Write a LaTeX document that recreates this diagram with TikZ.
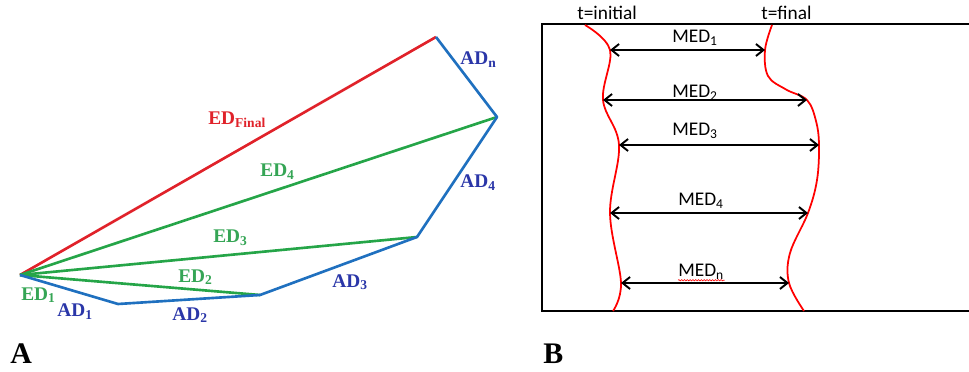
\documentclass[tikz,border=0pt]{standalone}
\usepackage{fontspec}
\setmainfont{Liberation Serif}
\newfontfamily\calib{Carlito}
\usetikzlibrary{arrows.meta,decorations.pathmorphing}
\definecolor{edrot}{HTML}{E0222A}
\definecolor{edgruen}{HTML}{25A548}
\definecolor{adblau}{HTML}{1F70BF}
\definecolor{adtext}{HTML}{2A36A8}
\definecolor{edtext}{HTML}{35A555}
\tikzset{
  weg/.style={line width=1.5pt,line join=round},
  lbl/.style={font=\fontsize{11}{13}\selectfont\bfseries,inner sep=0pt,anchor=base west},
  medpfeil/.style={{Straight Barb[length=1.5mm,width=2.4mm]}-{Straight Barb[length=1.5mm,width=2.4mm]},black,line width=1.1pt},
  front/.style={red,line width=1pt},
  medtxt/.style={font=\calib\fontsize{11}{13}\selectfont,inner sep=0pt,anchor=base west},
  panel/.style={font=\fontsize{17}{20}\selectfont\bfseries,inner sep=0pt,anchor=base west},
}
\begin{document}
\begin{tikzpicture}
  \useasboundingbox (0,0) rectangle (19.38,7.42);
  % --- A: Wegstrecke ---
  \coordinate (O) at (0.40,1.92);
  \coordinate (P1) at (2.36,1.34);
  \coordinate (P2) at (5.20,1.52);
  \coordinate (P3) at (8.34,2.68);
  \coordinate (P4) at (9.94,5.08);
  \coordinate (P5) at (8.72,6.68);
  \draw[weg,edrot] (O)--(P5);
  \draw[weg,edgruen] (O)--(P4);
  \draw[weg,edgruen] (O)--(P3);
  \draw[weg,edgruen] (O)--(P2);
  \draw[weg,adblau] (O)--(P1)--(P2)--(P3)--(P4)--(P5);
  \node[lbl,edrot] (edfinal) at (4.16,4.92) {ED\textsubscript{Final}};
  \node[lbl,edtext] (ed4) at (5.20,3.88) {ED\textsubscript{4}};
  \node[lbl,edtext] (ed3) at (4.26,2.56) {ED\textsubscript{3}};
  \node[lbl,edtext] (ed2) at (3.56,1.78) {ED\textsubscript{2}};
  \node[lbl,edtext] (ed1) at (0.42,1.42) {ED\textsubscript{1}};
  \node[lbl,adtext] (ad1) at (1.14,1.08) {AD\textsubscript{1}};
  \node[lbl,adtext] (ad2) at (3.44,1.02) {AD\textsubscript{2}};
  \node[lbl,adtext] (ad3) at (6.64,1.68) {AD\textsubscript{3}};
  \node[lbl,adtext] (ad4) at (9.20,3.66) {AD\textsubscript{4}};
  \node[lbl,adtext] (adn) at (9.20,6.12) {AD\textsubscript{n}};
  \node[panel] (pa) at (0.20,0.16) {A};
  % --- B: Fronten ---
  \draw[black,line width=1.1pt] (19.40,6.94)--(10.84,6.94)--(10.84,1.20)--(19.40,1.20);
  \coordinate (i0) at (11.70,6.92);
  \coordinate (i1) at (12.20,6.42);
  \coordinate (i2) at (12.06,5.42);
  \coordinate (i3) at (12.38,4.52);
  \coordinate (i4) at (12.20,3.16);
  \coordinate (i5) at (12.42,1.76);
  \coordinate (i6) at (12.26,1.20);
  \coordinate (f0) at (15.44,6.92);
  \coordinate (f1) at (15.30,6.42);
  \coordinate (fa) at (15.36,5.90);
  \coordinate (fb) at (15.72,5.63);
  \coordinate (f2) at (16.14,5.42);
  \coordinate (fe) at (16.32,5.00);
  \coordinate (f3) at (16.38,4.52);
  \coordinate (fc) at (16.34,3.82);
  \coordinate (f4) at (16.16,3.16);
  \coordinate (fd) at (15.80,2.36);
  \coordinate (f5) at (15.78,1.76);
  \coordinate (f6) at (16.08,1.20);
  \draw[front] plot[smooth,tension=0.6] coordinates {(i0) (i1) (i2) (i3) (i4) (i5) (i6)};
  \draw[front] plot[smooth,tension=0.6] coordinates {(f0) (f1) (fa) (fb) (f2) (fe) (f3) (fc) (f4) (fd) (f5) (f6)};
  \draw[medpfeil] (i1)--(f1);
  \draw[medpfeil] (i2)--(f2);
  \draw[medpfeil] (i3)--(f3);
  \draw[medpfeil] (i4)--(f4);
  \draw[medpfeil] (i5)--(f5);
  \node[medtxt] (tini) at (11.54,7.02) {t=initial};
  \node[medtxt] (tfin) at (15.22,7.02) {t=final};
  \node[medtxt] (med1) at (13.44,6.56) {MED\textsubscript{1}};
  \node[medtxt] (med2) at (13.44,5.46) {MED\textsubscript{2}};
  \node[medtxt] (med3) at (13.44,4.70) {MED\textsubscript{3}};
  \node[medtxt] (med4) at (13.56,3.30) {MED\textsubscript{4}};
  \node[medtxt] (medn) at (13.56,1.88) {MED\textsubscript{n}};
  \draw[red,line width=0.35pt,decorate,decoration={snake,amplitude=0.35pt,segment length=1.6pt}] (medn.south west)--(medn.south east);
  \node[panel] (pb) at (10.86,0.16) {B};
\end{tikzpicture}
\end{document}
